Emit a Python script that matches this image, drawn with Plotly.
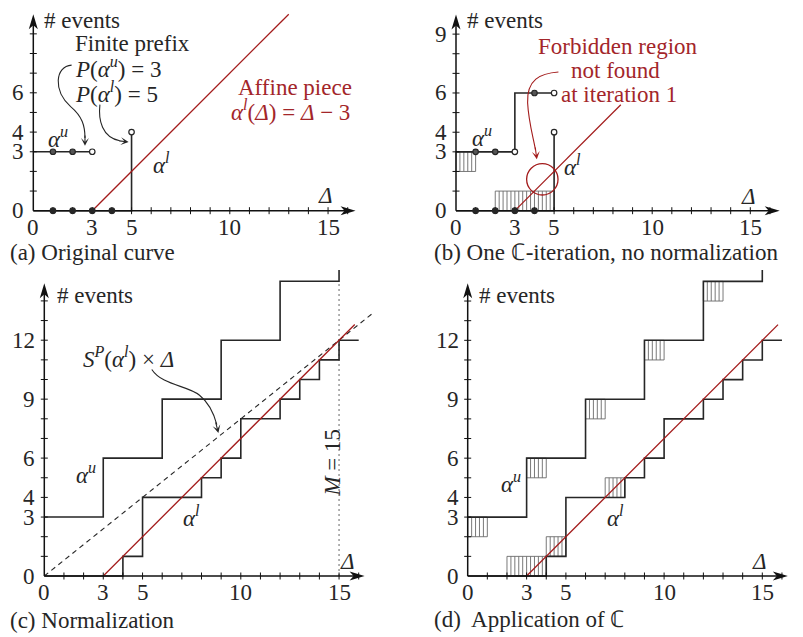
import plotly.graph_objects as go

# The page body has an 8px margin, so the figure is drawn 8px in from the window corner.
WIN_W, WIN_H = 803, 637
OFF = 8
W, H = WIN_W - OFF, WIN_H - OFF
FONT = "Liberation Serif, Times New Roman, serif"
FS = 23
INK = "#262626"
AXIS = "#111111"
RED = "#a31b1b"
TRED = "#a3262a"
HATCH = "#6a6a6a"

# ---------------- data ----------------
x_tick_labels = [0, 3, 5, 10, 15]
y_tick_labels_a = [0, 3, 4, 6]
y_tick_labels_b = [0, 3, 4, 6, 9]
y_tick_labels_cd = [0, 3, 4, 6, 9, 12]

# (a) original curve
a_upper_x = [0, 3]
a_upper_y = [3, 3]
a_lower_x = [0, 5, 5]
a_lower_y = [0, 0, 4]
a_upper_dots_x = [1, 2]
a_upper_dots_y = [3, 3]
a_upper_open_x = [3]
a_upper_open_y = [3]
a_lower_dots_x = [1, 2, 3, 4]
a_lower_dots_y = [0, 0, 0, 0]
a_lower_open_x = [5]
a_lower_open_y = [4]
a_affine_x = [3, 13]
a_affine_y = [0, 10]

# (b) one C-iteration
b_upper_x = [0, 3, 3, 5]
b_upper_y = [3, 3, 6, 6]
b_upper_dots_x = [1, 2, 4]
b_upper_dots_y = [3, 3, 6]
b_upper_open_x = [3, 5]
b_upper_open_y = [3, 6]
b_lower_x = [0, 5, 5]
b_lower_y = [0, 0, 4]
b_lower_dots_x = [1, 2, 3, 4]
b_lower_dots_y = [0, 0, 0, 0]
b_lower_open_x = [5]
b_lower_open_y = [4]
b_hatch = [(0, 1, 2, 3), (2, 5, 0, 1)]
b_affine_x = [3, 8.4]
b_affine_y = [0, 5.4]
b_forbidden = (4.4, 1.6, 0.8)  # centre x, centre y, radius

# (c) normalization / (d) application of C
cd_upper_x = [0, 3, 3, 6, 6, 9, 9, 12, 12, 15, 15]
cd_upper_y = [3, 3, 6, 6, 9, 9, 12, 12, 15, 15, 15.6]
cd_lower_x = [0, 4, 4, 5, 5, 8, 8, 9, 9, 10, 10, 12, 12, 13, 13, 14, 14, 15, 15, 16]
cd_lower_y = [0, 0, 1, 1, 4, 4, 5, 5, 6, 6, 8, 8, 9, 9, 10, 10, 11, 11, 12, 12]
cd_affine_x = [3, 15.8]
cd_affine_y = [0, 12.8]
c_rate_x = [0, 16.8]
c_rate_y = [0, 13.44]
c_M = 15
d_hatch_upper = [(0, 1, 2, 3), (3, 4, 5, 6), (6, 7, 8, 9), (9, 10, 11, 12), (12, 13, 14, 15)]
d_hatch_lower = [(2, 4, 0, 1), (4, 5, 1, 2), (7, 8, 4, 5)]

# ---------------- layout (boxes/origins in window pixels) ----------------
PANELS = [
    dict(box=(OFF, OFF, 400, 270), origin=(33.3, 210.7), s=19.65),
    dict(box=(400, OFF, WIN_W, 270), origin=(456.0, 210.7), s=19.62),
    dict(box=(OFF, 270, 400, WIN_H), origin=(44.3, 576.0), s=19.65),
    dict(box=(400, 270, WIN_W, WIN_H), origin=(467.7, 576.0), s=19.64),
]

fig = go.Figure()
layout = dict(width=W, height=H, margin=dict(l=0, r=0, t=0, b=0),
              paper_bgcolor="white", plot_bgcolor="white", showlegend=False)
for i, p in enumerate(PANELS):
    x0, y0, x1, y1 = p["box"]
    ox, oy = p["origin"]
    s = p["s"]
    sfx = "" if i == 0 else str(i + 1)
    layout["xaxis" + sfx] = dict(domain=[(x0 - OFF) / W, min(1, (x1 - OFF) / W)],
                                 range=[(x0 - ox) / s, (x1 - ox) / s],
                                 visible=False, anchor="y" + sfx, fixedrange=True)
    layout["yaxis" + sfx] = dict(domain=[max(0, 1 - (y1 - OFF) / H), 1 - (y0 - OFF) / H],
                                 range=[(oy - y1) / s, (oy - y0) / s],
                                 visible=False, anchor="x" + sfx, fixedrange=True)
fig.update_layout(**layout)

shapes = []
annotations = []


def refs(i):
    sfx = "" if i == 0 else str(i + 1)
    return "x" + sfx, "y" + sfx


def line(i, xs, ys, color=INK, width=1.6, dash=None):
    xr, yr = refs(i)
    fig.add_trace(go.Scatter(x=xs, y=ys, mode="lines", xaxis=xr, yaxis=yr, hoverinfo="skip",
                             line=dict(color=color, width=width, dash=dash)))


def dots(i, xs, ys, fill):
    xr, yr = refs(i)
    fig.add_trace(go.Scatter(x=xs, y=ys, mode="markers", xaxis=xr, yaxis=yr, hoverinfo="skip",
                             marker=dict(size=5.5, color=fill, line=dict(color=INK, width=1.2))))


def hatch(i, rects):
    xs, ys = [], []
    for (xa, xb, ya, yb) in rects:
        n = int(round((xb - xa) / 0.2))
        for k in range(1, n):
            xv = xa + k * 0.2
            xs += [xv, xv, None]
            ys += [ya, yb, None]
        xs += [xa, xb, xb, xa, xa, None]
        ys += [ya, ya, yb, yb, ya, None]
    line(i, xs, ys, color=HATCH, width=0.9)


def text(i, x, y, s, size=FS, color=INK, xanchor="center", yanchor="middle", angle=0):
    xr, yr = refs(i)
    annotations.append(dict(x=x, y=y, xref=xr, yref=yr, text=s, showarrow=False,
                            font=dict(family=FONT, size=size, color=color),
                            xanchor=xanchor, yanchor=yanchor, textangle=angle))


def curve(i, path, color):
    xr, yr = refs(i)
    shapes.append(dict(type="path", xref=xr, yref=yr, path=path, line=dict(color=color, width=1.1)))


def head(i, x, y, ax, ay, color):
    xr, yr = refs(i)
    annotations.append(dict(x=x, y=y, ax=ax, ay=ay, xref=xr, yref=yr, axref=xr, ayref=yr, text="",
                            showarrow=True, arrowhead=3, arrowsize=1.2, arrowwidth=1.1,
                            arrowcolor=color, standoff=0, startstandoff=0))


def axes(i, xmax, ymax, ymax_tick, ylabels):
    xr, yr = refs(i)
    s = PANELS[i]["s"]
    line(i, [0, xmax - 0.4], [0, 0], color=AXIS, width=1.5)
    line(i, [0, 0], [0, ymax - 0.4], color=AXIS, width=1.5)
    t = 3.5 / s
    tx, ty = [], []
    for k in range(1, 17):
        tx += [k, k, None]
        ty += [-t, t, None]
    for k in range(1, ymax_tick + 1):
        tx += [-t, t, None]
        ty += [k, k, None]
    line(i, tx, ty, color=AXIS, width=1)
    shapes.append(dict(type="path", xref=xr, yref=yr, xsizemode="pixel", ysizemode="pixel",
                       xanchor=xmax, yanchor=0, path="M0,0 L-15,-4.5 L-11,0 L-15,4.5 Z",
                       fillcolor=AXIS, line=dict(width=0)))
    shapes.append(dict(type="path", xref=xr, yref=yr, xsizemode="pixel", ysizemode="pixel",
                       xanchor=0, yanchor=ymax, path="M0,0 L-4.5,-15 L0,-11 L4.5,-15 Z",
                       fillcolor=AXIS, line=dict(width=0)))
    for v in x_tick_labels:
        text(i, v, -16.5 / s, str(v))
    for v in ylabels:
        text(i, -7 / s, v, str(v), xanchor="right")


# ---------------- panel (a) ----------------
line(0, a_upper_x, a_upper_y)
line(0, a_lower_x, a_lower_y)
line(0, a_affine_x, a_affine_y, color=RED, width=1.3)
axes(0, 16.4, 10.0, 9, y_tick_labels_a)
dots(0, a_upper_dots_x, a_upper_dots_y, "#555555")
dots(0, a_upper_open_x, a_upper_open_y, "white")
dots(0, a_lower_dots_x, a_lower_dots_y, INK)
dots(0, a_lower_open_x, a_lower_open_y, "white")
text(0, 0.43, 9.7, "# events", xanchor="left")
text(0, 2.0, 8.5, "Finite prefix", xanchor="left")
text(0, 2.0, 7.3, "<i>P</i>(<i>α</i><sup><i>u</i></sup>) = 3", xanchor="left")
text(0, 2.0, 6.0, "<i>P</i>(<i>α</i><sup><i>l</i></sup>) = 5", xanchor="left")
text(0, 13.3, 6.26, "Affine piece", color=TRED)
text(0, 13.1, 5.1, "<i>α</i><sup><i>l</i></sup>(<i>Δ</i>) = <i>Δ</i> − 3", color=TRED)
text(0, 1.25, 3.75, "<i>α</i><sup><i>u</i></sup>")
text(0, 6.5, 2.4, "<i>α</i><sup><i>l</i></sup>")
text(0, 14.85, 0.75, "<i>Δ</i>")
text(0, -1.27, -2.15, "(a) Original curve", xanchor="left")
curve(0, "M1.95,7.41 C1.1,7.35 1.0,6.1 1.9,5.3 C2.5,4.8 2.63,4.3 2.63,3.7", INK)
head(0, 2.63, 3.3, 2.63, 3.9, INK)
curve(0, "M3.39,5.4 C3.3,4.6 3.5,3.75 4.4,3.56", INK)
head(0, 4.85, 3.5, 4.3, 3.56, INK)

# ---------------- panel (b) ----------------
hatch(1, b_hatch)
line(1, b_upper_x, b_upper_y)
line(1, b_lower_x, b_lower_y)
line(1, b_affine_x, b_affine_y, color=RED, width=1.2)
axes(1, 16.5, 10.0, 9, y_tick_labels_b)
dots(1, b_upper_dots_x, b_upper_dots_y, "#555555")
dots(1, b_upper_open_x, b_upper_open_y, "white")
dots(1, b_lower_dots_x, b_lower_dots_y, INK)
dots(1, b_lower_open_x, b_lower_open_y, "white")
cx, cy, r = b_forbidden
shapes.append(dict(type="circle", xref="x2", yref="y2", x0=cx - r, x1=cx + r, y0=cy - r, y1=cy + r,
                   line=dict(color=RED, width=1.3)))
text(1, 0.46, 9.7, "# events", xanchor="left")
text(1, 8.25, 8.35, "Forbidden region", color=TRED)
text(1, 8.15, 7.16, "not found", color=TRED)
text(1, 8.3, 5.92, "at iteration 1", color=TRED)
text(1, 1.3, 3.78, "<i>α</i><sup><i>u</i></sup>")
text(1, 5.95, 2.3, "<i>α</i><sup><i>l</i></sup>")
text(1, 14.9, 0.72, "<i>Δ</i>")
text(1, -1.24, -2.15, "(b) One ℂ-iteration, no normalization", xanchor="left")
curve(1, "M5.22,7.07 C4.3,7.0 3.6,6.7 3.65,5.5 C3.7,4.5 3.95,3.7 4.05,3.1", RED)
head(1, 4.12, 2.62, 4.03, 3.3, RED)

# ---------------- panel (c) ----------------
line(2, [c_M, c_M], [0, c_M], color="#8a8a8a", width=1.3, dash="2px,3px")
line(2, c_rate_x, c_rate_y, color=INK, width=1.1, dash="5px,4px")
line(2, cd_upper_x, cd_upper_y)
line(2, cd_lower_x, cd_lower_y)
line(2, cd_affine_x, cd_affine_y, color=RED, width=1.3)
axes(2, 16.3, 14.9, 14, y_tick_labels_cd)
text(2, 0.54, 14.3, "# events", xanchor="left")
text(2, 4.3, 11.1, "<i>S</i><sup><i>P</i></sup>(<i>α</i><sup><i>l</i></sup>) × <i>Δ</i>")
text(2, 2.1, 5.2, "<i>α</i><sup><i>u</i></sup>")
text(2, 7.5, 3.05, "<i>α</i><sup><i>l</i></sup>")
text(2, 14.62, 5.75, "<i>M</i> = 15", angle=-90)
text(2, 15.43, 0.75, "<i>Δ</i>")
text(2, -1.83, -2.24, "(c) Normalization", xanchor="left")
curve(2, "M5.47,10.51 C6.0,9.7 7.3,9.7 7.9,9.2 C8.4,8.8 8.65,8.2 8.78,7.7", INK)
head(2, 8.86, 7.28, 8.7, 7.9, INK)

# ---------------- panel (d) ----------------
hatch(3, d_hatch_upper)
hatch(3, d_hatch_lower)
line(3, cd_upper_x, cd_upper_y)
line(3, cd_lower_x, cd_lower_y)
line(3, cd_affine_x, cd_affine_y, color=RED, width=1.3)
axes(3, 16.3, 14.9, 14, y_tick_labels_cd)
text(3, 0.46, 14.3, "# events", xanchor="left")
text(3, 2.2, 4.75, "<i>α</i><sup><i>u</i></sup>")
text(3, 7.5, 3.05, "<i>α</i><sup><i>l</i></sup>")
text(3, 14.88, 0.75, "<i>Δ</i>")
text(3, -1.83, -2.24, "(d)&nbsp; Application of ℂ", xanchor="left")

fig.update_layout(shapes=shapes, annotations=annotations)
fig.write_html("out.html")
